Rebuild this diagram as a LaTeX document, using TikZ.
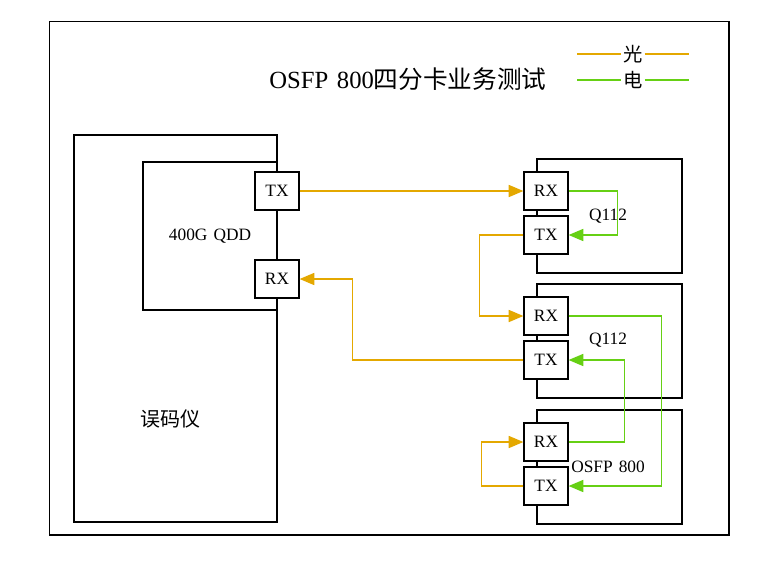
\documentclass[tikz,border=0pt]{standalone}
\usepackage{fontspec}
\setmainfont{Liberation Serif}
\newfontfamily\cjk{Noto Sans CJK SC}
\usetikzlibrary{arrows.meta}
\definecolor{optc}{RGB}{228,168,0}
\definecolor{elec}{RGB}{102,208,20}
\begin{document}
\begin{tikzpicture}[x=0.75pt,y=-0.75pt,
  box/.style={draw=black,line width=0.9pt,fill=white,inner sep=0pt},
  port/.style={box,minimum width=33pt,minimum height=28.5pt,font=\fontsize{13pt}{15pt}\selectfont},
  module/.style={box,minimum width=108.75pt,minimum height=85.5pt},
  lbl/.style={font=\fontsize{13pt}{15pt}\selectfont,inner sep=0pt},
  optl/.style={draw=optc,line width=1.15pt},
  elel/.style={draw=elec,line width=1.15pt},
  tip/.style={-{Triangle[length=11pt,width=9pt]}},
  legch/.style={font=\cjk\fontsize{14.5pt}{16pt}\selectfont,inner sep=1.2pt}
]
\useasboundingbox (0,0) rectangle (763,571);
% outer frame
\node[draw=black,line width=0.9pt,minimum width=509.6pt,minimum height=385.1pt,inner sep=0pt] (frame) at (389.25,278.25) {};
% title
\node[inner sep=0pt,font=\fontsize{18.5pt}{22pt}\selectfont] (title) at (408,79) {OSFP\hspace{0.35em}800{\cjk 四分卡业务测试}};
% legend
\node[legch] (lgo) at (633,54) {光};
\node[legch] (lge) at (633,80) {电};
\coordinate (lgoa) at (577,54); \coordinate (lgob) at (689,54);
\coordinate (lgea) at (577,80); \coordinate (lgeb) at (689,80);
\draw[optl] (lgoa) -- (lgo.west); \draw[optl] (lgo.east) -- (lgob);
\draw[elel] (lgea) -- (lge.west); \draw[elel] (lge.east) -- (lgeb);
% BERT
\node[box,minimum width=152.25pt,minimum height=290.25pt] (bert) at (175.5,328.5) {};
\node[box,minimum width=100.5pt,minimum height=111pt] (qdd) at (210,236) {};
\node[lbl] (qddl) at (210,236) {400G\hspace{0.35em}QDD};
\node[inner sep=0pt,font=\cjk\fontsize{15pt}{16pt}\selectfont] (bertl) at (170,419) {误码仪};
\node[port] (ltx) at (277,191) {TX};
\node[port] (lrx) at (277,279) {RX};
% modules
\node[module] (m1) at (609.5,216) {};
\node[module] (m2) at (609.5,341) {};
\node[module] (m3) at (609.5,467) {};
\node[lbl] (m1l) at (608,216) {Q112};
\node[lbl] (m2l) at (608,340) {Q112};
\node[lbl] (m3l) at (608,467) {OSFP\hspace{0.35em}800};
\node[port] (r1rx) at (546,191) {RX};
\node[port] (r1tx) at (546,235) {TX};
\node[port] (r2rx) at (546,316) {RX};
\node[port] (r2tx) at (546,360) {TX};
\node[port] (r3rx) at (546,442) {RX};
\node[port] (r3tx) at (546,486) {TX};
% bend columns
\coordinate (ca) at (479.5,0);
\coordinate (cb) at (352.5,0);
\coordinate (cc) at (481.5,0);
\coordinate (cd) at (617.5,0);
\coordinate (ce) at (661.5,0);
\coordinate (cf) at (624.5,0);
% connectors
\draw[optl,tip] (ltx.east) -- (r1rx.west);
\draw[optl,tip] (r1tx.west) -- (r1tx.west -| ca) |- (r2rx.west);
\draw[optl,tip] (r2tx.west) -- (r2tx.west -| cb) |- (lrx.east);
\draw[optl,tip] (r3tx.west) -- (r3tx.west -| cc) |- (r3rx.west);
\draw[elel,tip] (r1rx.east) -- (r1rx.east -| cd) |- (r1tx.east);
\draw[elel,tip] (r2rx.east) -- (r2rx.east -| ce) |- (r3tx.east);
\draw[elel,tip] (r3rx.east) -- (r3rx.east -| cf) |- (r2tx.east);
\end{tikzpicture}
\end{document}
